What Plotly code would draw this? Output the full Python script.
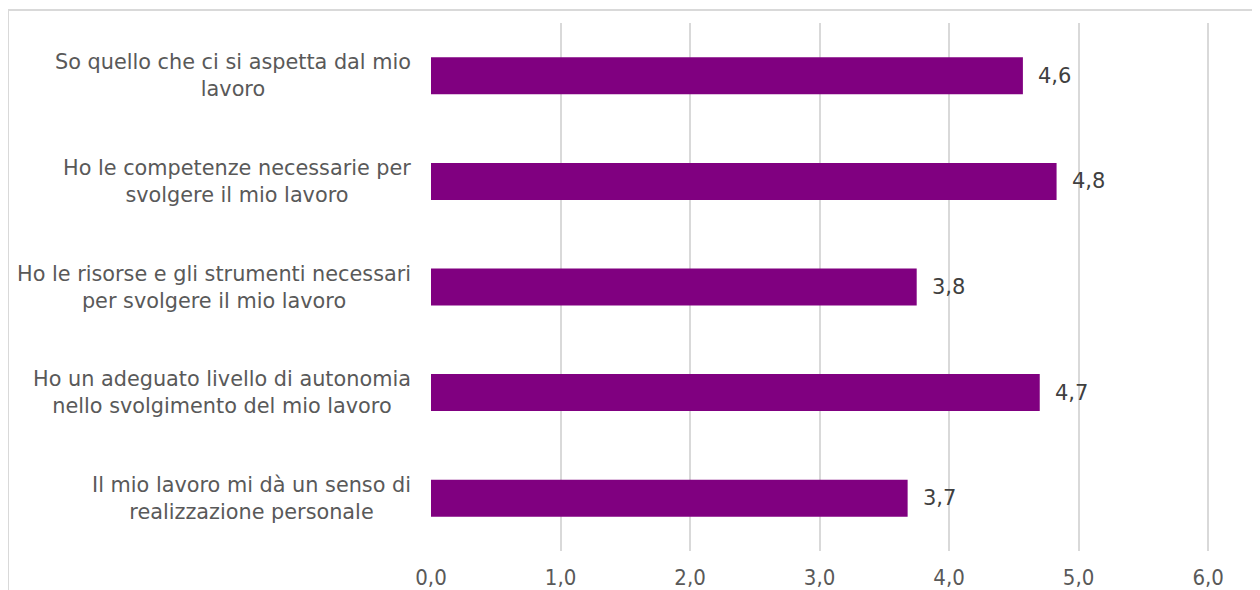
import plotly.graph_objects as go

categories = [
    "So quello che ci si aspetta dal mio<br>lavoro",
    "Ho le competenze necessarie per<br>svolgere il mio lavoro",
    "Ho le risorse e gli strumenti necessari<br>per svolgere il mio lavoro",
    "Ho un adeguato livello di autonomia<br>nello svolgimento del mio lavoro",
    "Il mio lavoro mi dà un senso di<br>realizzazione personale",
]
values = [4.57, 4.83, 3.75, 4.70, 3.68]
value_labels = ["4,6", "4,8", "3,8", "4,7", "3,7"]
tick_vals = [0, 1, 2, 3, 4, 5, 6]
tick_text = ["0,0", "1,0", "2,0", "3,0", "4,0", "5,0", "6,0"]

BAR = "#800080"
TXT = "#595959"
LBL = "#404040"
GRID = "#d9d9d9"

fig = go.Figure()
fig.add_trace(go.Bar(
    x=values, y=categories, orientation="h",
    marker=dict(color=BAR, line=dict(width=0)),
    width=0.35, hoverinfo="skip",
))

annotations = []
for c in categories:
    annotations.append(dict(
        x=0, y=c, xref="x", yref="y", text=c, showarrow=False,
        xanchor="right", yanchor="middle", align="center", xshift=-18,
        font=dict(family="DejaVu Sans, Verdana, sans-serif", size=20.8, color=TXT),
    ))
for v, c, t in zip(values, categories, value_labels):
    annotations.append(dict(
        x=v, y=c, xref="x", yref="y", text=t, showarrow=False,
        xanchor="left", yanchor="middle", xshift=13,
        font=dict(family="DejaVu Sans, Verdana, sans-serif", size=21, color=LBL),
    ))

# page body has an 8px default margin; size figure to compensate
fig.update_layout(
    width=1252, height=582,
    margin=dict(l=423, r=48, t=15, b=39, autoexpand=False),
    paper_bgcolor="white", plot_bgcolor="white",
    showlegend=False,
    annotations=annotations,
    shapes=[dict(
        type="rect", xref="paper", yref="paper",
        x0=-0.5416, x1=1.3, y0=-0.3, y1=1.0246,
        line=dict(color=GRID, width=2), fillcolor="rgba(0,0,0,0)", layer="below",
    )],
    xaxis=dict(
        range=[0, 6.03], tickvals=tick_vals, ticktext=tick_text,
        showgrid=True, gridcolor=GRID, gridwidth=1.5,
        zeroline=False, showline=False, ticks="",
        ticklabelstandoff=11, automargin=False,
        tickfont=dict(family="Liberation Sans Narrow, DejaVu Sans Condensed, Arial Narrow, sans-serif",
                      size=22, color=TXT),
        fixedrange=True,
    ),
    yaxis=dict(
        autorange="reversed", showticklabels=False, showgrid=False, automargin=False,
        zeroline=False, showline=False, ticks="", fixedrange=True,
    ),
)

fig.write_html("out.html")
